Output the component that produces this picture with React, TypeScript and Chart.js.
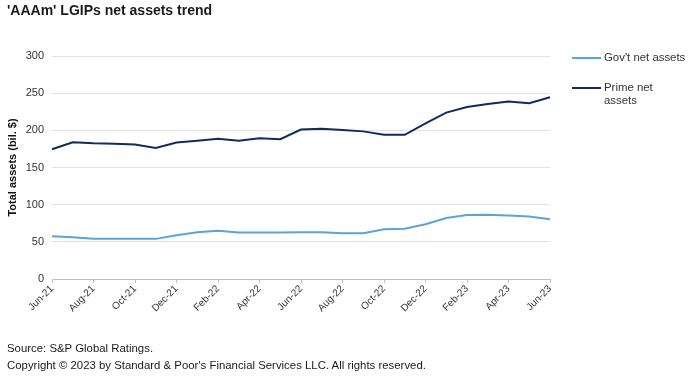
import React, { useEffect, useRef } from "react";
import { Chart, registerables } from "chart.js";
Chart.register(...registerables);

const months = [
  "Jun-21", "Jul-21", "Aug-21", "Sep-21", "Oct-21", "Nov-21", "Dec-21",
  "Jan-22", "Feb-22", "Mar-22", "Apr-22", "May-22", "Jun-22", "Jul-22",
  "Aug-22", "Sep-22", "Oct-22", "Nov-22", "Dec-22", "Jan-23", "Feb-23",
  "Mar-23", "Apr-23", "May-23", "Jun-23",
];
const govNetAssets = [
  57.5, 56, 54, 54, 54, 54, 59, 63, 65, 62.5, 62.5, 62.5, 63, 63, 61.7,
  61.5, 67, 67.5, 73.7, 82, 86, 86.5, 85.5, 84, 80.5,
];
const primeNetAssets = [
  174.5, 184, 182.5, 182, 180.8, 176.3, 183.5, 186, 188.8, 186, 189.3, 188,
  201, 202, 200.4, 198.6, 194, 194, 209.4, 223.8, 231.4, 235.5, 238.7,
  236.5, 244.6,
];
const yMin = 0;
const yMax = 300;
const yStep = 50;

const FONT = "Arial, 'Liberation Sans', sans-serif";
const GOV_COLOR = "#5aa4d6";
const PRIME_COLOR = "#0e2d5e";

export default function App() {
  const ref = useRef<HTMLCanvasElement | null>(null);
  useEffect(() => {
    if (!ref.current) return;
    const chart = new Chart(ref.current, {
      type: "line",
      data: {
        labels: months,
        datasets: [
          {
            label: "Gov't net assets",
            data: govNetAssets,
            borderColor: GOV_COLOR,
            backgroundColor: GOV_COLOR,
            borderWidth: 2,
            pointRadius: 0,
            tension: 0,
          },
          {
            label: "Prime net assets",
            data: primeNetAssets,
            borderColor: PRIME_COLOR,
            backgroundColor: PRIME_COLOR,
            borderWidth: 2,
            pointRadius: 0,
            tension: 0,
          },
        ],
      },
      options: {
        responsive: false,
        animation: false,
        layout: { padding: { left: 0, top: 56, right: 141, bottom: 0 } },
        plugins: {
          legend: { display: false },
          title: { display: false },
          tooltip: { enabled: false },
        },
        scales: {
          x: {
            type: "category",
            offset: false,
            grid: {
              drawOnChartArea: false,
              drawTicks: true,
              tickLength: 4,
              color: (c: any) => (c.index % 2 === 0 ? "#bfbfbf" : "rgba(0,0,0,0)"),
              tickColor: (c: any) => (c.index % 2 === 0 ? "#bfbfbf" : "rgba(0,0,0,0)"),
            },
            border: { display: true, color: "#bfbfbf", width: 1 },
            ticks: {
              autoSkip: false,
              maxRotation: 45,
              minRotation: 45,
              padding: 0,
              color: "#333333",
              font: { family: FONT, size: 10 },
              callback: (_v: any, i: number) => (i % 2 === 0 ? months[i] : ""),
            },
            afterFit: (s: any) => {
              s.height = 113;
            },
          },
          y: {
            min: yMin,
            max: yMax,
            grid: { color: "#e3e3e3", drawTicks: false, lineWidth: 1 },
            border: { display: false },
            ticks: {
              stepSize: yStep,
              padding: 8,
              color: "#333333",
              font: { family: FONT, size: 11 },
            },
            title: {
              display: true,
              text: "Total assets (bil. $)",
              color: "#111111",
              font: { family: FONT, size: 11, weight: "bold" },
              padding: { top: 6, bottom: 0 },
            },
            afterFit: (s: any) => {
              s.width = 52;
            },
          },
        },
      },
    });
    return () => chart.destroy();
  }, []);

  return (
    <div
      style={{
        position: "absolute",
        left: 0,
        top: 0,
        width: 691,
        height: 392,
        background: "#ffffff",
        fontFamily: FONT,
        color: "#1a1a1a",
        overflow: "hidden",
      }}
    >
      <canvas
        ref={ref}
        width={691}
        height={392}
        style={{ position: "absolute", left: 0, top: 0, width: 691, height: 392 }}
      />
      <div
        style={{
          position: "absolute",
          left: 7,
          top: 1,
          fontSize: 14,
          fontWeight: "bold",
          lineHeight: "18px",
          whiteSpace: "nowrap",
        }}
      >
        'AAAm' LGIPs net assets trend
      </div>
      <div style={{ position: "absolute", left: 572, top: 57, width: 29, height: 2, background: GOV_COLOR }} />
      <div
        style={{ position: "absolute", left: 604, top: 51, fontSize: 11.4, lineHeight: "13px", color: "#333", whiteSpace: "nowrap" }}
      >
        Gov't net assets
      </div>
      <div style={{ position: "absolute", left: 572, top: 87, width: 29, height: 2, background: PRIME_COLOR }} />
      <div
        style={{ position: "absolute", left: 604, top: 81, fontSize: 11.4, lineHeight: "13px", color: "#333", width: 70 }}
      >
        Prime net
        <br />
        assets
      </div>
      <div
        style={{ position: "absolute", left: 7, top: 341, fontSize: 11.4, lineHeight: "14px", whiteSpace: "nowrap" }}
      >
        Source: S&amp;P Global Ratings.
      </div>
      <div
        style={{ position: "absolute", left: 7, top: 358, fontSize: 11.4, lineHeight: "14px", whiteSpace: "nowrap" }}
      >
        Copyright © 2023 by Standard &amp; Poor's Financial Services LLC. All rights reserved.
      </div>
    </div>
  );
}
